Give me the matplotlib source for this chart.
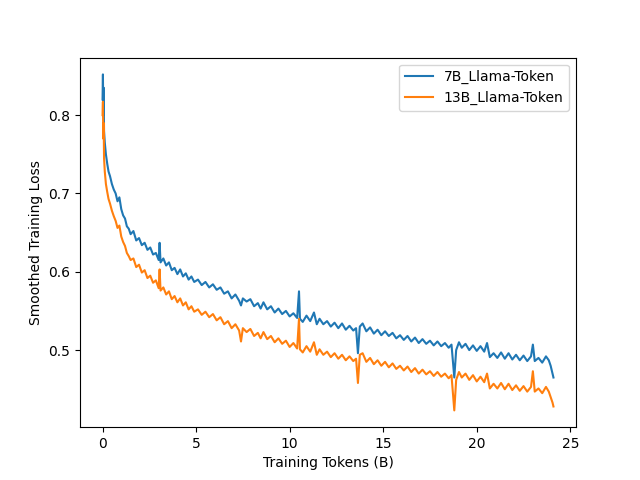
import matplotlib
matplotlib.use("Agg")
import matplotlib.pyplot as plt

x_blue = [0.00, 0.02, 0.04, 0.06, 0.08, 0.12, 0.18, 0.25, 0.32, 0.40, 0.50, 0.60, 0.70, 0.80, 0.90,
          1.00, 1.10, 1.20, 1.30, 1.40, 1.50, 1.65, 1.80, 1.95, 2.10, 2.25, 2.40, 2.55, 2.70, 2.85,
          3.00, 3.05, 3.10, 3.25, 3.40, 3.55, 3.70, 3.85, 4.00, 4.15, 4.30, 4.45, 4.60, 4.75, 4.90,
          5.10, 5.30, 5.50, 5.70, 5.90, 6.10, 6.30, 6.50, 6.70, 6.90, 7.10, 7.30, 7.40, 7.50, 7.70,
          7.90, 8.10, 8.30, 8.45, 8.60, 8.80, 9.00, 9.20, 9.40, 9.60, 9.80, 10.00, 10.20, 10.40, 10.50,
          10.55, 10.70, 10.90, 11.10, 11.30, 11.45, 11.60, 11.80, 12.00, 12.20, 12.40, 12.60, 12.80, 13.00,
          13.20, 13.40, 13.55, 13.65, 13.75, 13.90, 14.10, 14.30, 14.50, 14.70, 14.90, 15.10, 15.30, 15.50,
          15.70, 15.90, 16.10, 16.30, 16.50, 16.70, 16.90, 17.10, 17.30, 17.50, 17.70, 17.90, 18.10, 18.30,
          18.50, 18.65, 18.80, 18.90, 19.05, 19.20, 19.40, 19.60, 19.80, 20.00, 20.20, 20.40, 20.55, 20.70,
          20.90, 21.10, 21.30, 21.50, 21.70, 21.90, 22.10, 22.30, 22.50, 22.70, 22.90, 23.00, 23.10, 23.30,
          23.50, 23.70, 23.85, 23.95, 24.05, 24.10]
loss_7b = [0.820, 0.852, 0.800, 0.835, 0.780, 0.765, 0.750, 0.738, 0.728, 0.722, 0.712, 0.705, 0.700, 0.690, 0.695,
           0.680, 0.672, 0.668, 0.658, 0.655, 0.648, 0.652, 0.640, 0.643, 0.634, 0.637, 0.628, 0.631, 0.622, 0.624,
           0.615, 0.637, 0.612, 0.617, 0.608, 0.612, 0.602, 0.605, 0.597, 0.603, 0.594, 0.598, 0.590, 0.594, 0.587,
           0.590, 0.583, 0.587, 0.580, 0.584, 0.577, 0.580, 0.572, 0.575, 0.566, 0.571, 0.563, 0.557, 0.566, 0.562,
           0.565, 0.556, 0.560, 0.553, 0.561, 0.552, 0.556, 0.548, 0.553, 0.546, 0.550, 0.543, 0.547, 0.541, 0.575,
           0.540, 0.536, 0.544, 0.537, 0.548, 0.533, 0.540, 0.533, 0.537, 0.530, 0.535, 0.528, 0.534, 0.526,
           0.531, 0.525, 0.528, 0.496, 0.530, 0.534, 0.524, 0.529, 0.521, 0.526, 0.519, 0.524, 0.518, 0.522,
           0.515, 0.519, 0.513, 0.518, 0.511, 0.516, 0.509, 0.514, 0.508, 0.512, 0.506, 0.511, 0.505, 0.509,
           0.503, 0.507, 0.465, 0.500, 0.510, 0.503, 0.508, 0.500, 0.506, 0.499, 0.505, 0.498, 0.509, 0.491,
           0.496, 0.490, 0.497, 0.489, 0.496, 0.488, 0.494, 0.487, 0.493, 0.486, 0.492, 0.507, 0.486, 0.490,
           0.484, 0.492, 0.487, 0.480, 0.470, 0.465]

x_orange = x_blue
loss_13b = [0.800, 0.817, 0.770, 0.790, 0.745, 0.728, 0.712, 0.702, 0.693, 0.687, 0.678, 0.671, 0.665, 0.656, 0.659,
            0.645, 0.638, 0.633, 0.624, 0.620, 0.615, 0.617, 0.606, 0.609, 0.599, 0.602, 0.592, 0.595, 0.586, 0.589,
            0.579, 0.603, 0.576, 0.580, 0.571, 0.575, 0.565, 0.569, 0.561, 0.566, 0.557, 0.561, 0.552, 0.556, 0.549,
            0.552, 0.545, 0.549, 0.542, 0.546, 0.538, 0.542, 0.533, 0.537, 0.528, 0.533, 0.525, 0.511, 0.528, 0.523,
            0.527, 0.518, 0.522, 0.515, 0.523, 0.514, 0.518, 0.510, 0.515, 0.508, 0.512, 0.504, 0.509, 0.502, 0.540,
            0.501, 0.497, 0.505, 0.498, 0.510, 0.494, 0.501, 0.494, 0.498, 0.491, 0.496, 0.489, 0.494, 0.487,
            0.492, 0.486, 0.489, 0.458, 0.494, 0.496, 0.485, 0.490, 0.482, 0.487, 0.480, 0.485, 0.478, 0.483,
            0.476, 0.480, 0.474, 0.479, 0.472, 0.477, 0.470, 0.475, 0.469, 0.473, 0.467, 0.472, 0.466, 0.470,
            0.464, 0.468, 0.423, 0.462, 0.472, 0.465, 0.470, 0.462, 0.468, 0.460, 0.466, 0.459, 0.470, 0.451,
            0.457, 0.451, 0.458, 0.450, 0.457, 0.449, 0.455, 0.448, 0.454, 0.447, 0.453, 0.473, 0.447, 0.451,
            0.445, 0.453, 0.447, 0.440, 0.433, 0.428]

labels = ["7B_Llama-Token", "13B_Llama-Token"]

fig, ax = plt.subplots(figsize=(6.4, 4.8), dpi=100)
ax.plot(x_blue, loss_7b, color="#1f77b4", label=labels[0])
ax.plot(x_orange, loss_13b, color="#ff7f0e", label=labels[1])
ax.set_xlabel("Training Tokens (B)")
ax.set_ylabel("Smoothed Training Loss")
ax.legend(loc="upper right")
fig.savefig("out.png", dpi=100)
